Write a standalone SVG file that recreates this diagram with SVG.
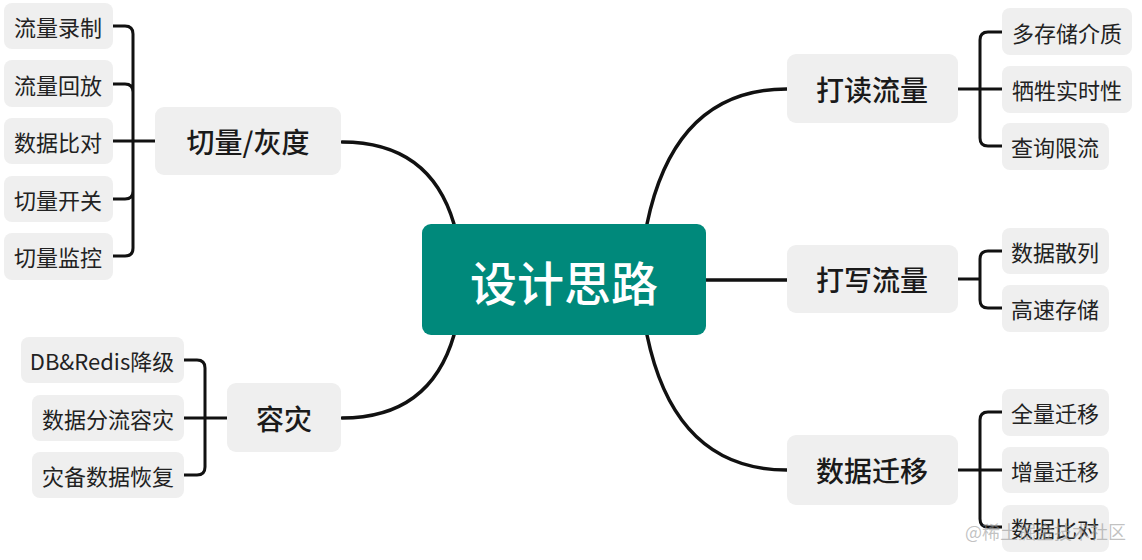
<svg xmlns="http://www.w3.org/2000/svg" width="1142" height="560" viewBox="0 0 1142 560">
<style>
.bg{fill:#ffffff}
.leaf rect,.sub rect{fill:#efefef}
.leaf text{font-family:"Noto Sans CJK SC","Noto Sans",sans-serif;font-size:22px;fill:#222;text-anchor:middle;dominant-baseline:central}
.sub text{font-family:"Noto Sans CJK SC","Noto Sans",sans-serif;font-size:28px;font-weight:500;fill:#1a1a1a;text-anchor:middle;dominant-baseline:central}
.root rect{fill:#00897b}
.root text{font-family:"Noto Sans CJK SC","Noto Sans",sans-serif;font-size:47px;font-weight:500;fill:#ffffff;text-anchor:middle;dominant-baseline:central}
.main{fill:none;stroke:#111;stroke-width:3.5;stroke-linecap:round}
.br{fill:none;stroke:#111;stroke-width:3;stroke-linejoin:round}
.wm{font-family:"Noto Sans CJK SC","Noto Sans",sans-serif;font-size:18px;fill:#999;fill-opacity:0.6}
</style>
<rect class="bg" x="0" y="0" width="1142" height="560"/>
<g id="connectors">
<path class="main" d="M454 224 Q430 142 342 142"/>
<path class="main" d="M454 335 Q430 418 342 418"/>
<path class="main" d="M647 224 Q675 89 787 89"/>
<path class="main" d="M706 280 L787 280"/>
<path class="main" d="M647 335 Q675 470 787 470"/>
<path class="br" d="M113 26 H125 Q133 26 133 34 V248 Q133 256 125 256 H113 M113 84 H125 Q133 84 133 92 M113 199 H125 Q133 199 133 191 M113 141 H155"/>
<path class="br" d="M184 360 H197 Q205 360 205 368 V467 Q205 475 197 475 H184 M184 418 H227"/>
<path class="br" d="M1002 32 H988 Q980 32 980 40 V138 Q980 146 988 146 H1002 M958 89 H1002"/>
<path class="br" d="M1002 251 H988 Q980 251 980 259 V300 Q980 308 988 308 H1002 M958 279 H980"/>
<path class="br" d="M1002 412 H988 Q980 412 980 420 V519 Q980 527 988 527 H1002 M958 470 H1002"/>
</g>
<g id="root" class="root"><rect x="422" y="224" width="284" height="111" rx="9"/><text x="564" y="280">设计思路</text></g>
<g id="n-qieliang" class="sub"><rect x="155" y="107" width="186" height="68" rx="9"/><text x="248" y="141">切量/灰度</text></g>
<g id="n-rongzai" class="sub"><rect x="227" y="383" width="114" height="69" rx="9"/><text x="284" y="418">容灾</text></g>
<g id="n-dadu" class="sub"><rect x="787" y="54" width="171" height="69" rx="9"/><text x="872" y="89">打读流量</text></g>
<g id="n-daxie" class="sub"><rect x="787" y="245" width="171" height="68" rx="9"/><text x="872" y="279">打写流量</text></g>
<g id="n-qianyi" class="sub"><rect x="787" y="435" width="171" height="70" rx="9"/><text x="872" y="470">数据迁移</text></g>
<g id="l1" class="leaf"><rect x="4" y="3" width="109" height="46" rx="8"/><text x="58" y="26">流量录制</text></g>
<g id="l2" class="leaf"><rect x="4" y="60" width="109" height="47" rx="8"/><text x="58" y="84">流量回放</text></g>
<g id="l3" class="leaf"><rect x="4" y="118" width="109" height="46" rx="8"/><text x="58" y="141">数据比对</text></g>
<g id="l4" class="leaf"><rect x="4" y="176" width="109" height="46" rx="8"/><text x="58" y="199">切量开关</text></g>
<g id="l5" class="leaf"><rect x="4" y="233" width="109" height="47" rx="8"/><text x="58" y="256">切量监控</text></g>
<g id="l6" class="leaf"><rect x="21" y="337" width="163" height="46" rx="8"/><text x="102" y="360">DB&amp;Redis降级</text></g>
<g id="l7" class="leaf"><rect x="32" y="395" width="152" height="46" rx="8"/><text x="108" y="418">数据分流容灾</text></g>
<g id="l8" class="leaf"><rect x="32" y="452" width="152" height="46" rx="8"/><text x="108" y="475">灾备数据恢复</text></g>
<g id="r1" class="leaf"><rect x="1002" y="8" width="130" height="47" rx="8"/><text x="1067" y="32">多存储介质</text></g>
<g id="r2" class="leaf"><rect x="1002" y="66" width="130" height="47" rx="8"/><text x="1067" y="89">牺牲实时性</text></g>
<g id="r3" class="leaf"><rect x="1002" y="123" width="107" height="47" rx="8"/><text x="1055" y="146">查询限流</text></g>
<g id="r4" class="leaf"><rect x="1002" y="228" width="107" height="46" rx="8"/><text x="1055" y="251">数据散列</text></g>
<g id="r5" class="leaf"><rect x="1002" y="285" width="107" height="47" rx="8"/><text x="1055" y="308">高速存储</text></g>
<g id="r6" class="leaf"><rect x="1002" y="389" width="107" height="47" rx="8"/><text x="1055" y="412">全量迁移</text></g>
<g id="r7" class="leaf"><rect x="1002" y="447" width="107" height="46" rx="8"/><text x="1055" y="470">增量迁移</text></g>
<g id="r8" class="leaf"><rect x="1002" y="505" width="107" height="47" rx="8"/><text x="1055" y="527">数据比对</text></g>
<text class="wm" x="965" y="539">@稀土掘金技术社区</text>
</svg>
